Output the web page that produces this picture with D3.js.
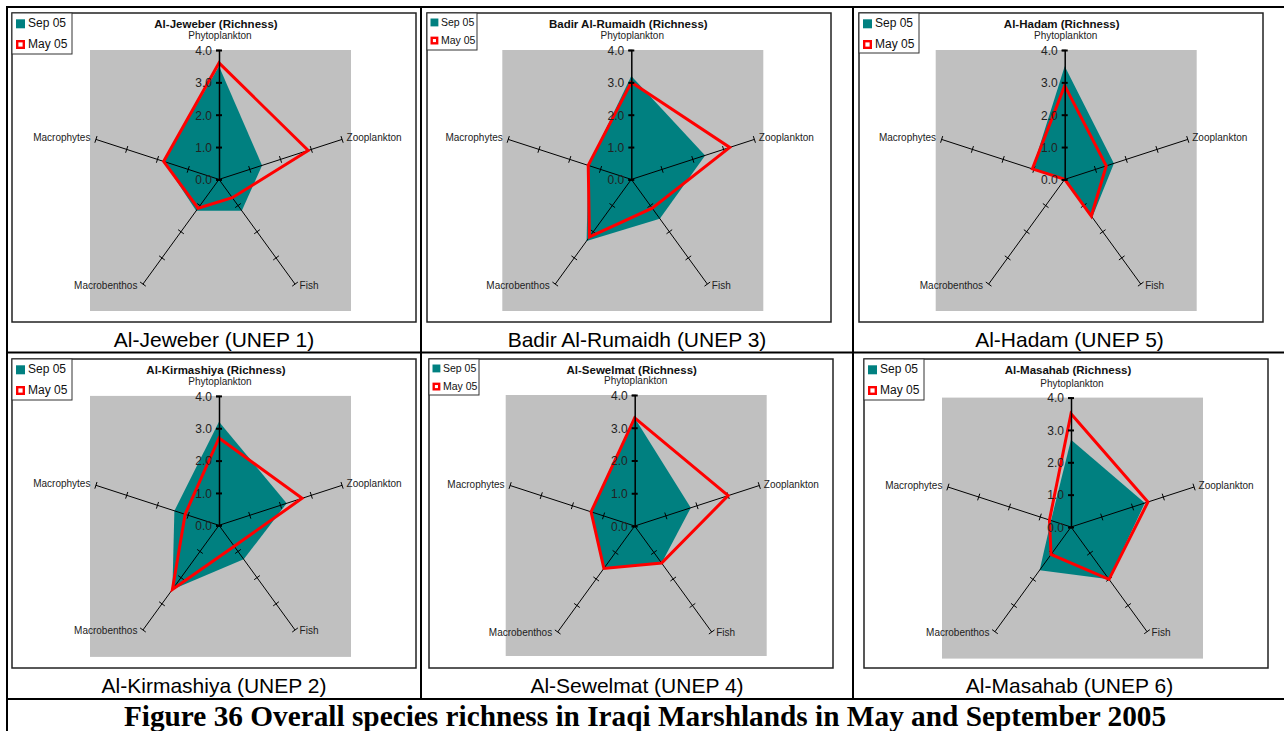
<!DOCTYPE html>
<html>
<head>
<meta charset="utf-8">
<script src="https://cdn.jsdelivr.net/npm/d3@7"></script>
<style>
  body { margin: 0; background: #fff; }
  text { font-family: "Liberation Sans", Arial, sans-serif; }
</style>
</head>
<body>
<div id="fig"></div>
<script>
// data
var categories = ["Phytoplankton", "Zooplankton", "Fish", "Macrobenthos", "Macrophytes"];
var sites = ["Al-Jeweber", "Badir Al-Rumaidh", "Al-Hadam", "Al-Kirmashiya", "Al-Sewelmat", "Al-Masahab"];
var captions = ["Al-Jeweber (UNEP 1)", "Badir Al-Rumaidh (UNEP 3)", "Al-Hadam (UNEP 5)",
                "Al-Kirmashiya (UNEP 2)", "Al-Sewelmat (UNEP 4)", "Al-Masahab (UNEP 6)"];
var seriesNames = ["Sep 05", "May 05"];
var sep05 = [
  [3.5, 1.4, 1.2, 1.2, 1.8],
  [3.2, 2.4, 1.5, 2.35, 1.4],
  [3.5, 1.6, 1.45, 0.0, 1.05],
  [3.2, 2.2, 1.3, 2.45, 1.45],
  [3.3, 1.8, 1.4, 1.6, 1.4],
  [2.7, 2.4, 2.0, 1.65, 0.65]
];
var may05 = [
  [3.6, 2.9, 0.7, 1.1, 1.8],
  [3.0, 3.2, 1.1, 2.2, 1.4],
  [2.9, 1.35, 1.4, 0.0, 1.05],
  [2.7, 2.7, 0.8, 2.45, 1.1],
  [3.3, 3.0, 1.4, 1.6, 1.4],
  [3.5, 2.5, 2.0, 1.05, 0.7]
];
var tickValues = [0, 1, 2, 3, 4];
var figureTitle = "Figure 36 Overall species richness in Iraqi Marshlands in May and September 2005";

// layout of the six chart boxes
var panels = [
  {x: 12,  y: 13,  cx: 219,    cy: 179.4, R: 129.4, legW: 60, legH: 41, fs: 12,   capX: 214,    capY: 347},
  {x: 427, y: 13,  cx: 631.3,  cy: 179.4, R: 129.4, legW: 50, legH: 37, fs: 10.5, capX: 637,    capY: 347},
  {x: 859, y: 13,  cx: 1064.7, cy: 179.4, R: 129.4, legW: 60, legH: 40, fs: 12,   capX: 1069.5, capY: 347},
  {x: 12,  y: 359, cx: 219,    cy: 525.3, R: 129.4, legW: 60, legH: 41, fs: 12,   capX: 214,    capY: 693},
  {x: 429, y: 359, cx: 634.7,  cy: 526,   R: 131,   legW: 50, legH: 36, fs: 10.5, capX: 637,    capY: 693},
  {x: 864, y: 359, cx: 1071,   cy: 527,   R: 129.4, legW: 60, legH: 41, fs: 12,   capX: 1069.5, capY: 693}
];
var boxW = 404, boxH = 309;
var teal = "#008080", red = "#ff0000", grey = "#c0c0c0";

var svg = d3.select("#fig").append("svg")
  .attr("width", 1284)
  .attr("height", 731);

// table grid
var grid = svg.append("g").attr("stroke", "#000").attr("stroke-width", 2);
grid.append("line").attr("x1", 6).attr("x2", 1284).attr("y1", 7).attr("y2", 7);
grid.append("line").attr("x1", 6).attr("x2", 1284).attr("y1", 352.5).attr("y2", 352.5);
grid.append("line").attr("x1", 6).attr("x2", 1284).attr("y1", 699).attr("y2", 699);
grid.append("line").attr("x1", 7).attr("x2", 7).attr("y1", 6).attr("y2", 731);
grid.append("line").attr("x1", 421).attr("x2", 421).attr("y1", 6).attr("y2", 699);
grid.append("line").attr("x1", 853).attr("x2", 853).attr("y1", 6).attr("y2", 699);

var ang = function(i) { return i * 2 * Math.PI / categories.length; };

panels.forEach(function(p, k) {
  var g = svg.append("g");
  var r = d3.scaleLinear().domain([0, 4]).range([0, p.R]);
  var pt = function(i, v) {
    return [p.cx + r(v) * Math.sin(ang(i)), p.cy - r(v) * Math.cos(ang(i))];
  };

  // chart box
  g.append("rect")
    .attr("x", p.x).attr("y", p.y).attr("width", boxW).attr("height", boxH)
    .attr("fill", "#fff").attr("stroke", "#222").attr("stroke-width", 1.5);

  // grey plot area
  g.append("rect")
    .attr("x", p.cx - 129).attr("y", p.cy - p.R)
    .attr("width", 261).attr("height", 261)
    .attr("fill", grey);

  var radial = d3.lineRadial()
    .angle(function(d, i) { return ang(i); })
    .radius(function(d) { return r(d); })
    .curve(d3.curveLinearClosed);

  // Sep 05 filled area
  g.append("path")
    .attr("transform", "translate(" + p.cx + "," + p.cy + ")")
    .attr("d", radial(sep05[k]))
    .attr("fill", teal);

  // spokes except the vertical one
  var spokes = g.append("g").attr("stroke", "#000").attr("stroke-width", 1);
  categories.forEach(function(c, i) {
    if (i === 0) return;
    var e = pt(i, 4);
    spokes.append("line")
      .attr("x1", p.cx).attr("y1", p.cy).attr("x2", e[0]).attr("y2", e[1]);
    var px = Math.cos(ang(i)), py = Math.sin(ang(i));
    tickValues.filter(function(t) { return t > 0; }).forEach(function(t) {
      var q = pt(i, t);
      spokes.append("line")
        .attr("x1", q[0] - 3.5 * px).attr("y1", q[1] - 3.5 * py)
        .attr("x2", q[0] + 3.5 * px).attr("y2", q[1] + 3.5 * py);
    });
  });

  // May 05 outline
  g.append("path")
    .attr("transform", "translate(" + p.cx + "," + p.cy + ")")
    .attr("d", radial(may05[k]))
    .attr("fill", "none")
    .attr("stroke", red)
    .attr("stroke-width", 3)
    .attr("stroke-linejoin", "miter");

  // vertical value axis
  var yScale = d3.scaleLinear().domain([0, 4]).range([p.cy, p.cy - p.R]);
  var yAxis = d3.axisLeft(yScale)
    .tickValues(tickValues)
    .tickFormat(d3.format(".1f"))
    .tickSize(3)
    .tickPadding(4);
  var ax = g.append("g")
    .attr("transform", "translate(" + p.cx + ",0)")
    .call(yAxis);
  ax.attr("font-size", 12).attr("font-family", "Liberation Sans, Arial, sans-serif");
  ax.select(".domain").attr("stroke", "#000").attr("stroke-width", 1.5);
  ax.selectAll(".tick line").attr("x1", 3).attr("stroke", "#000").attr("stroke-width", 2);
  ax.selectAll(".tick text").attr("fill", "#222").attr("dy", "0.36em");

  // category labels
  categories.forEach(function(c, i) {
    var e = pt(i, 4);
    var t = g.append("text").attr("font-size", 10).attr("fill", "#222").text(c);
    if (i === 0) {
      t.attr("x", p.cx + 1).attr("y", p.cy - p.R - 11).attr("text-anchor", "middle");
    } else {
      var right = Math.sin(ang(i)) > 0;
      var low = Math.cos(ang(i)) < 0;
      t.attr("x", e[0] + (right ? 4.5 : -5.5))
        .attr("y", e[1] + (low ? 4.5 : 2))
        .attr("text-anchor", right ? "start" : "end");
    }
  });

  // chart title
  g.append("text")
    .attr("x", p.cx - 3).attr("y", p.y + 14.5)
    .attr("text-anchor", "middle")
    .attr("font-size", 11.5).attr("font-weight", "bold")
    .attr("fill", "#111")
    .text(sites[k] + " (Richness)");

  // legend
  var s = p.fs / 12;
  var leg = g.append("g").attr("transform", "translate(" + p.x + "," + p.y + ")");
  leg.append("rect")
    .attr("width", p.legW).attr("height", p.legH)
    .attr("fill", "#fff").attr("stroke", "#333").attr("stroke-width", 1);
  seriesNames.forEach(function(n, j) {
    var yb = 14.3 * s + j * 20.7 * s;
    if (j === 0) {
      leg.append("rect")
        .attr("x", 4 * s).attr("y", yb - 8 * s).attr("width", 9 * s).attr("height", 9 * s)
        .attr("fill", teal);
    } else {
      leg.append("rect")
        .attr("x", 4 * s + 1.2).attr("y", yb - 8 * s + 1.2)
        .attr("width", 9 * s - 2.4).attr("height", 9 * s - 2.4)
        .attr("fill", "#fff").attr("stroke", red).attr("stroke-width", 2.4);
    }
    leg.append("text")
      .attr("x", 16 * s).attr("y", yb)
      .attr("font-size", p.fs).attr("fill", "#111")
      .text(n);
  });

  // cell caption
  svg.append("text")
    .attr("x", p.capX).attr("y", p.capY)
    .attr("text-anchor", "middle")
    .attr("font-size", 21)
    .attr("fill", "#000")
    .text(captions[k]);
});

// figure caption
svg.append("text")
  .attr("x", 645).attr("y", 726)
  .attr("text-anchor", "middle")
  .attr("font-size", 29.3)
  .attr("font-weight", "bold")
  .style("font-family", "'Liberation Serif', 'Times New Roman', serif")
  .text(figureTitle);
</script>
</body>
</html>
